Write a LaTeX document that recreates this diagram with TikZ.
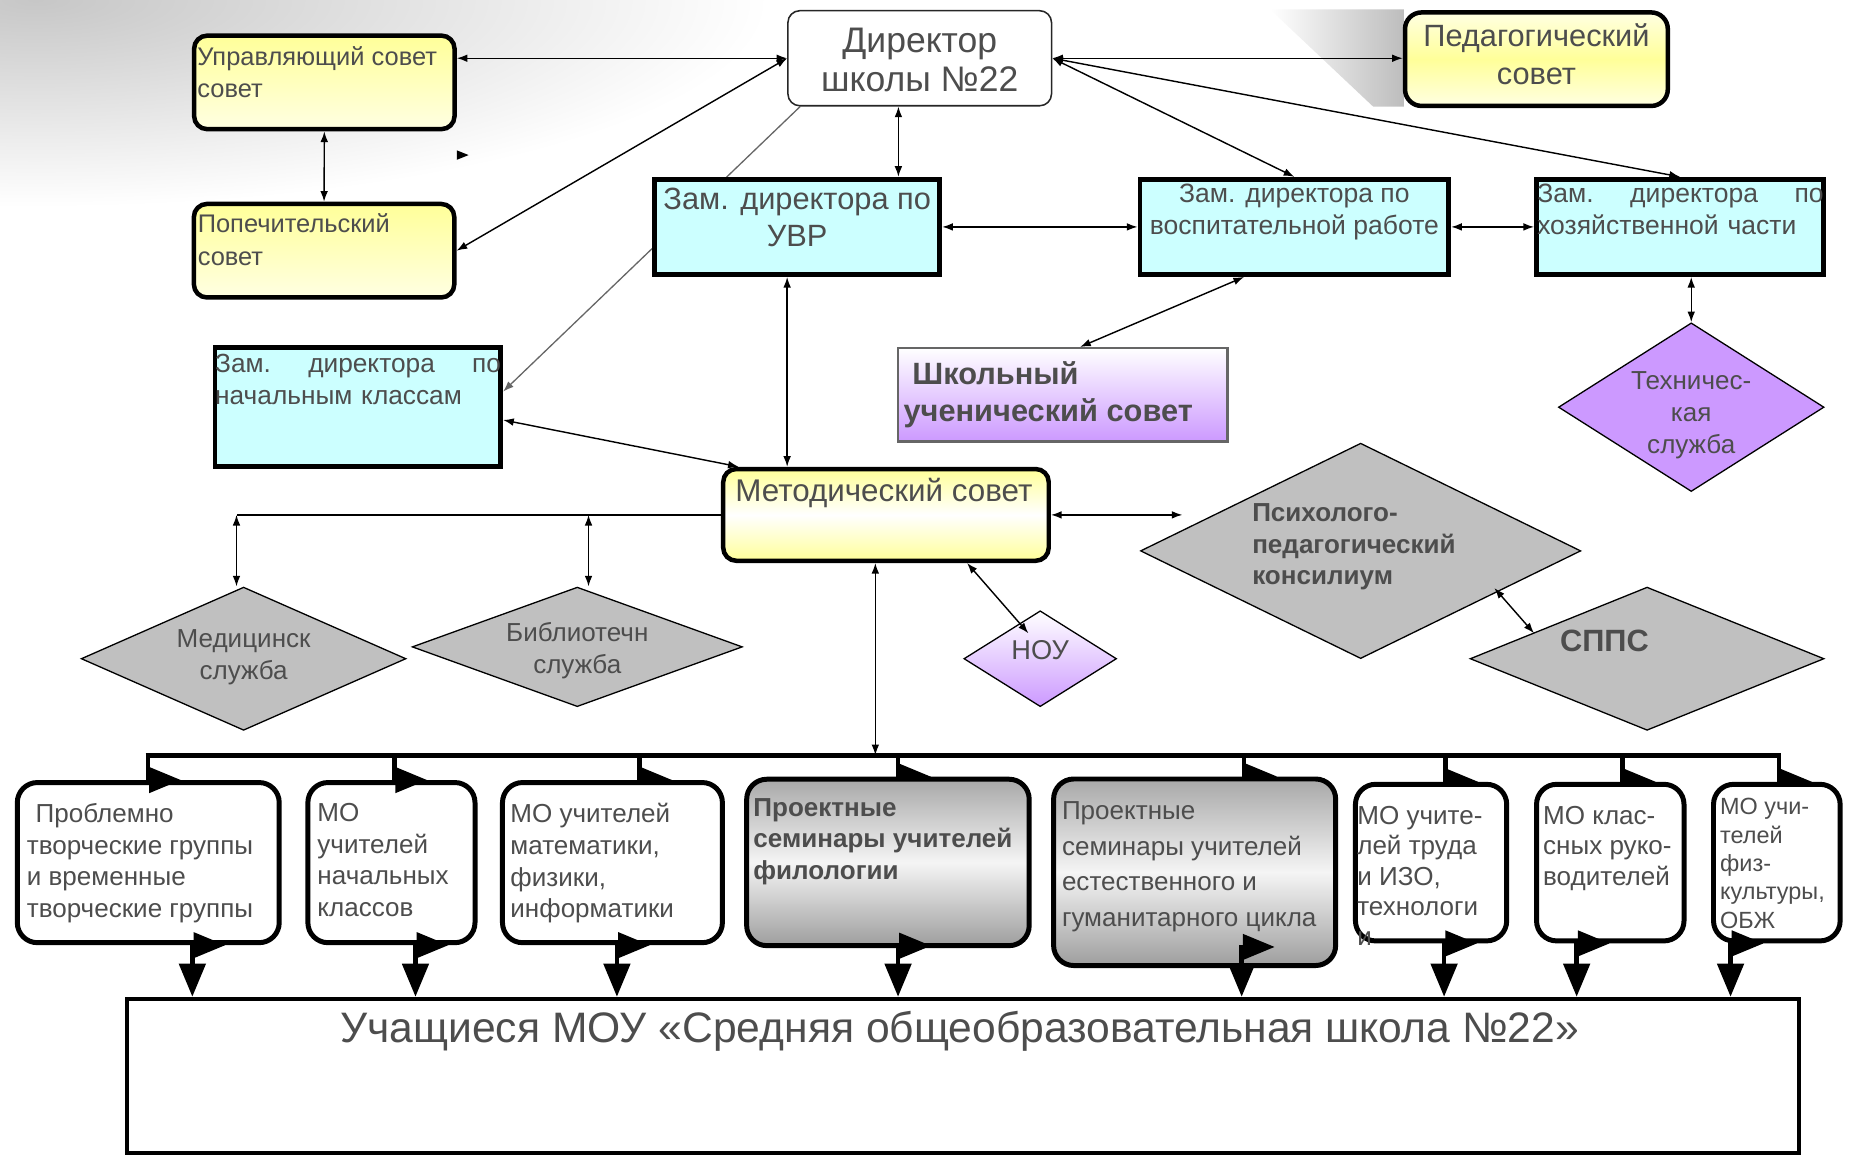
\documentclass[tikz,border=0pt]{standalone}
\usepackage{fontspec}
\setmainfont{Liberation Sans}
\usetikzlibrary{arrows.meta,positioning,calc,shapes.geometric,backgrounds}
\definecolor{boardyellow}{RGB}{255,255,153}
\definecolor{paleyellow}{RGB}{255,255,226}
\definecolor{deputycyan}{RGB}{204,255,255}
\definecolor{lilac}{RGB}{204,153,255}
\definecolor{servgray}{RGB}{192,192,192}
\definecolor{inkgray}{RGB}{77,77,77}
\tikzset{
  boxtext/.style={text=inkgray,inner sep=0pt,align=left,font=\fontsize{22}{26.8}\selectfont},
  headbox/.style={draw=black!85,line width=1.3pt,fill=white,rounded corners=10pt,inner sep=0pt},
  councilbox/.style={draw=black,line width=3.8pt,rounded corners=11pt,top color=boardyellow,
    bottom color=paleyellow,inner sep=0pt,minimum width=220pt,minimum height=79pt},
  deputybox/.style={draw=black,line width=4pt,fill=deputycyan,inner sep=0pt,minimum height=80.6pt},
  pupilbox/.style={draw=black!60,line width=1.8pt,top color=white,bottom color=lilac,inner sep=0pt},
  groupbox/.style={draw=black,line width=4.2pt,rounded corners=17pt,fill=white,inner sep=0pt,
    minimum height=135.3pt},
  seminarbox/.style={groupbox,top color=black!34,bottom color=black!38,middle color=black!4},
  servicediamond/.style={diamond,draw=black,line width=1.1pt,fill=servgray,inner sep=0pt},
  link/.style={{Latex[length=9pt,width=6.5pt]}-{Latex[length=9pt,width=6.5pt]},line width=1.2pt},
  greylink/.style={-{Latex[length=9pt,width=6.5pt]},line width=1.1pt,draw=black!60},
  busline/.style={line width=4pt},
  droparrow/.style={-{Triangle[length=27pt,width=21pt]},line width=4pt},
  outarrow/.style={{Triangle[length=27pt,width=21pt]}-{Triangle[length=28pt,width=22pt]},line width=4pt}
}
\begin{document}
\begin{tikzpicture}[x=1pt,y=-1pt]
  \useasboundingbox (0,0) rectangle (1568,977);
  % administration
  \node[headbox,minimum width=222.7pt,minimum height=80.3pt] (dir) at (777,49.2) {};
  \node[boxtext,align=center,anchor=north,font=\fontsize{30}{32.5}\selectfont] (dir-t)
    at ([yshift=-15.5pt]dir.north) {Директор\\школы №22};
  \node[councilbox] (upr) at (274,69.6) {};
  \node[boxtext,anchor=north west,font=\fontsize{21.5}{26.7}\selectfont] (upr-t)
    at ([xshift=4.5pt,yshift=-11.1pt]upr.north west) {Управляющий совет\\совет};
  \node[councilbox] (pop) at (273.8,211.8) {};
  \node[boxtext,anchor=north west,font=\fontsize{21.5}{28}\selectfont] (pop-t)
    at ([xshift=5pt,yshift=-9.8pt]pop.north west) {Попечительский\\совет};
  \node[councilbox,rounded corners=14pt,minimum width=222pt,top color=paleyellow,
    bottom color=paleyellow,middle color=boardyellow] (ped) at (1298,50) {};
  \node[boxtext,align=center,anchor=north,font=\fontsize{26}{31.5}\selectfont] (ped-t)
    at ([yshift=-11.5pt]ped.north) {Педагогический\\совет};
  % deputies
  \node[deputybox,minimum width=241pt] (uvr) at (673.5,191.7) {};
  \node[boxtext,align=center,anchor=north,font=\fontsize{26}{31}\selectfont] (uvr-t)
    at ([yshift=-9.3pt]uvr.north) {Зам. директора по\\УВР};
  \node[deputybox,minimum width=261pt] (vos) at (1093.5,191.7) {};
  \node[boxtext,align=center,anchor=north,font=\fontsize{22.4}{26.8}\selectfont] (vos-t)
    at ([yshift=-6.2pt]vos.north) {Зам. директора по\\воспитательной работе};
  \node[deputybox,minimum width=242.6pt] (hoz) at (1419.3,191.7) {};
  \node[boxtext,anchor=north west,text width=242pt,font=\fontsize{22.4}{26.8}\selectfont] (hoz-t)
    at ([xshift=2.5pt,yshift=-6.2pt]hoz.north west) {Зам.\hfill директора\hfill по\\хозяйственной части};
  \node[deputybox,minimum width=241.5pt,minimum height=100.5pt] (nach) at (302.3,343.8) {};
  \node[boxtext,anchor=north west,text width=241.5pt,font=\fontsize{22.2}{27}\selectfont] (nach-t)
    at ([xshift=2pt,yshift=-7.5pt]nach.north west) {Зам.\hfill директора\hfill по\\начальным классам};
  \node[pupilbox,minimum width=278pt,minimum height=79pt] (shk) at (898,333.5) {};
  \node[boxtext,anchor=north west,font=\fontsize{26}{31}\selectfont\bfseries] (shk-t)
    at ([xshift=5pt,yshift=-12.1pt]shk.north west) {\hspace*{7.5pt}Школьный\\ученический совет};
  \node[councilbox,minimum width=275pt,minimum height=77.5pt,bottom color=boardyellow,
    middle color=white] (met) at (748.5,435) {};
  \node[boxtext,anchor=north west,font=\fontsize{26.5}{31}\selectfont] (met-t)
    at ([xshift=12pt,yshift=-9.1pt]met.north west) {Методический совет};
  % services
  \node[servicediamond,minimum width=274.4pt,minimum height=121pt] (med) at (205.8,556.5) {};
  \node[boxtext,align=center,font=\fontsize{22}{27.1}\selectfont] (med-t)
    at ([yshift=1pt]med.center) {Медицинск\\служба};
  \node[servicediamond,minimum width=279pt,minimum height=101pt] (bib) at (487.7,546.5) {};
  \node[boxtext,align=center] (bib-t) at ([yshift=-3.3pt]bib.center) {Библиотечн\\служба};
  \node[servicediamond,fill=lilac,minimum width=224.4pt,minimum height=142.5pt] (tech) at (1428.8,344) {};
  \node[boxtext,align=center] (tech-t) at ([yshift=-6.7pt]tech.center) {Техничес-\\кая\\служба};
  \node[servicediamond,minimum width=372pt,minimum height=182pt] (ppk) at (1149.5,465.4) {};
  \node[boxtext,font=\fontsize{22}{26.8}\selectfont\bfseries] (ppk-t)
    at ([xshift=-5.7pt,yshift=3.5pt]ppk.center) {Психолого-\\педагогический\\консилиум};
  \node[servicediamond,top color=white,bottom color=lilac,minimum width=129pt,minimum height=81pt] (nou)
    at (878.8,556.5) {};
  \node[boxtext,font=\fontsize{23}{27}\selectfont] (nou-t) at ([yshift=7.1pt]nou.center) {НОУ};
  \node[servicediamond,minimum width=299pt,minimum height=121pt] (spps) at (1391.5,556.5) {};
  \node[boxtext,font=\fontsize{26}{30}\selectfont\bfseries] (spps-t)
    at ([xshift=-36pt,yshift=15pt]spps.center) {СППС};
  % teacher groups
  \node[groupbox,minimum width=221.3pt] (pa) at (125.25,728.75) {};
  \node[boxtext,anchor=north west] (pa-t) at ([xshift=10pt,yshift=-19.4pt]pa.north west)
    {\hspace*{7.5pt}Проблемно\\творческие группы\\и временные\\творческие группы};
  \node[groupbox,minimum width=141.2pt] (pb) at (330.7,728.75) {};
  \node[boxtext,anchor=north west] (pb-t) at ([xshift=10pt,yshift=-19.4pt]pb.north west)
    {МО\\учителей\\начальных\\классов};
  \node[groupbox,minimum width=185.8pt] (pc) at (517.4,728.75) {};
  \node[boxtext,anchor=north west] (pc-t) at ([xshift=8.6pt,yshift=-19.4pt]pc.north west)
    {МО учителей\\математики,\\физики,\\информатики};
  \node[seminarbox,minimum width=238.7pt,minimum height=140.6pt] (pd) at (750.15,728.6) {};
  \node[boxtext,anchor=north west,font=\fontsize{22}{26.6}\selectfont\bfseries] (pd-t)
    at ([xshift=7.6pt,yshift=-18.2pt]pd.north west) {Проектные\\семинары учителей\\филологии};
  \node[seminarbox,minimum width=238.3pt,minimum height=157.6pt] (pe) at (1009.25,736.9) {};
  \node[boxtext,anchor=north west,font=\fontsize{22}{30}\selectfont] (pe-t)
    at ([xshift=9pt,yshift=-21.2pt]pe.north west)
    {Проектные\\семинары учителей\\естественного и\\гуманитарного цикла};
  \node[groupbox,minimum width=127.8pt,minimum height=132.3pt] (pf) at (1209,728.75) {};
  \node[boxtext,anchor=north west,font=\fontsize{22}{25.5}\selectfont] (pf-t)
    at ([xshift=3.5pt,yshift=-20.7pt]pf.north west) {МО учите-\\лей труда\\и ИЗО,\\технологи\\и};
  \node[groupbox,minimum width=124.6pt,minimum height=132.3pt] (pg) at (1360.4,728.75) {};
  \node[boxtext,anchor=north west,font=\fontsize{22}{25.5}\selectfont] (pg-t)
    at ([xshift=7.5pt,yshift=-20.7pt]pg.north west) {МО клас-\\сных руко-\\водителей};
  \node[groupbox,minimum width=107pt,minimum height=132.3pt] (ph) at (1501.1,728.75) {};
  \node[boxtext,anchor=north west,font=\fontsize{19.8}{24}\selectfont] (ph-t)
    at ([xshift=7.5pt,yshift=-13.7pt]ph.north west) {МО учи-\\телей\\физ-\\культуры,\\ОБЖ};
  \node[draw=black,line width=3.4pt,fill=white,inner sep=0pt,minimum width=1413pt,minimum height=130pt] (big)
    at (813.4,908.8) {};
  \node[boxtext,anchor=north,font=\fontsize{36}{40}\selectfont] (big-t)
    at ([xshift=-2.6pt,yshift=-12.4pt]big.north) {Учащиеся МОУ «Средняя общеобразовательная школа №22»};
  % bus
  \coordinate (busL) at (123,638);
  \coordinate (busR) at (1505,638);
  \draw[busline] (busL) -- (busR);
  % backdrop and hidden links
  \begin{scope}[on background layer]
    \clip (0,0) rectangle (1568,977);
    \shade[inner color=black!22,outer color=white] (30,0) ellipse [x radius=620,y radius=175];
    \shade[left color=white,right color=black!26] (1073,8) -- (1186,8) -- (1186,90) -- (1160,90) -- cycle;
    \draw[greylink] ([xshift=-101pt]dir.south) -- ([yshift=13pt]nach.east);
    \draw[droparrow] ([xshift=117.6pt]pc.north west |- busL) -- ([xshift=117.6pt]pc.north west) -- ++(28,0);
    \draw[droparrow] ([xshift=130pt]pd.north west |- busL) -- ([xshift=130pt]pd.north west) -- ++(28,0);
    \draw[droparrow] ([xshift=163pt]pe.north west |- busL) -- ([xshift=163pt]pe.north west) -- ++(28,0);
    \draw[droparrow] ([xshift=78pt]pf.north west |- busL) -- ([xshift=78pt]pf.north west) -- ++(28,0);
    \draw[droparrow] ([xshift=75pt]pg.north west |- busL) -- ([xshift=75pt]pg.north west) -- ++(28,0);
    \draw[droparrow] ([xshift=57.5pt]ph.north west |- busL) -- ([xshift=57.5pt]ph.north west) -- ++(28,0);
  \end{scope}
  \draw[droparrow] ([xshift=112.5pt]pa.north west |- busL) -- ([xshift=112.5pt]pa.north west) -- ++(28,0);
  \draw[droparrow] ([xshift=75pt]pb.north west |- busL) -- ([xshift=75pt]pb.north west) -- ++(28,0);
  % links to the pupils
  \draw[outarrow] ($(pa.south west)+(178,0)$) -- ++(-28,0) -- ([xshift=150pt]pa.south west |- big.north);
  \draw[outarrow] ($(pb.south west)+(121,0)$) -- ++(-28,0) -- ([xshift=93pt]pb.south west |- big.north);
  \draw[outarrow] ($(pc.south west)+(126.8,0)$) -- ++(-28,0) -- ([xshift=98.8pt]pc.south west |- big.north);
  \draw[outarrow] ($(pd.south west)+(158,-2)$) -- ++(-28,0) -- ([xshift=130pt]pd.south west |- big.north);
  \draw[outarrow] ($(pe.south west)+(189,-17.8)$) -- ++(-28,0) -- ([xshift=161pt]pe.south west |- big.north);
  \draw[outarrow] ($(pf.south west)+(105,0)$) -- ++(-28,0) -- ([xshift=77pt]pf.south west |- big.north);
  \draw[outarrow] ($(pg.south west)+(64,0)$) -- ++(-28,0) -- ([xshift=36pt]pg.south west |- big.north);
  \draw[outarrow] ($(ph.south west)+(44.5,0)$) -- ++(-28,0) -- ([xshift=16.5pt]ph.south west |- big.north);
  % links
  \draw[link] (dir.west) -- (dir.west -| upr.east);
  \draw[link] (dir.west) -- (pop.east);
  \draw[link] (upr.south) -- (pop.north);
  \fill ($(upr.south east)+(0,16)$) -- ++(10,4) -- ++(-10,4) -- cycle;
  \draw[link] ([xshift=-18pt]dir.south) -- ([xshift=-18pt]dir.south |- uvr.north);
  \draw[link] (dir.east) -- (dir.east -| ped.west);
  \draw[link] (dir.east) -- (vos.north);
  \draw[link] (dir.east) -- (hoz.north);
  \draw[link] (uvr.east) -- (vos.west);
  \draw[link] (vos.east) -- (hoz.west);
  \draw[link] ([xshift=-42.5pt]vos.south) -- ([xshift=14.5pt]shk.north);
  \draw[link] (hoz.south -| tech.north) -- (tech.north);
  \draw[link] ([xshift=-8.5pt]uvr.south) -- ([xshift=-8.5pt]uvr.south |- met.north);
  \draw[link] ([yshift=-11pt]nach.east) -- ([xshift=15pt]met.north west);
  \draw[line width=1.2pt] (met.west) -- ([xshift=-6pt]med.north |- met.west);
  \draw[link] ([xshift=-6pt]med.north |- met.west) -- ([xshift=-6pt]med.north);
  \draw[link] ([xshift=9.5pt]bib.north |- met.west) -- ([xshift=9.5pt]bib.north);
  \coordinate (ppk-in) at ($(ppk.west)+(36,-30)$);
  \draw[link] (met.east) -- (met.east -| ppk-in);
  \draw[link] ([xshift=68.5pt]met.south) -- ($(nou.center)+(-10,-21.5)$);
  \draw[link] ($(ppk.center)+(113,31.4)$) -- ($(spps.center)+(-95.5,-21.5)$);
  \draw[link] ([xshift=-9pt]met.south) -- ([xshift=-9pt]met.south |- busL);
\end{tikzpicture}
\end{document}
